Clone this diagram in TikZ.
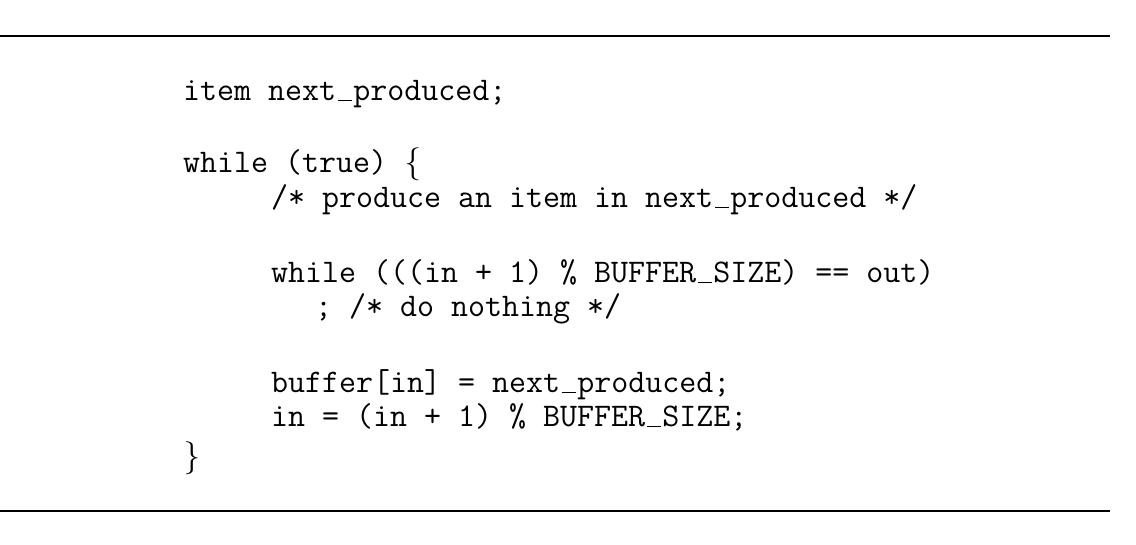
\documentclass[tikz,border=0pt]{standalone}
\newcommand{\usc}{\makebox[0.525em]{\rule[-0.04em]{0.42em}{0.045em}}}
\newcommand{\lbr}{\makebox[0.525em]{\rmfamily\{}}
\newcommand{\rbr}{\makebox[0.525em]{\rmfamily\}}}
\begin{document}
\begin{tikzpicture}[x=1pt,y=-1pt,
  code/.style={anchor=base west,inner sep=0pt,font=\fontsize{33}{40}\selectfont\ttfamily}]
\useasboundingbox (0,0) rectangle (1136,544);
\draw[line width=2.5pt] (0,36) coordinate (tl) -- (1110,36) coordinate (tr);
\draw[line width=2.5pt] (0,511) coordinate (bl) -- (1110,511) coordinate (br);
\node[code] (l1) at (183,100) {item next\usc produced;};
\node[code] (l2) at (183,172) {while (true) \lbr};
\node[code] (l3) at (271,207) {/* produce an item in next\usc produced */};
\node[code] (l4) at (271,282) {while (((in + 1) \% BUFFER\usc SIZE) == out)};
\node[code] (l5) at (315,316) {; /* do nothing */};
\node[code] (l6) at (271,392) {buffer[in] = next\usc produced;};
\node[code] (l7) at (271,426) {in = (in + 1) \% BUFFER\usc SIZE;};
\node[code] (l8) at (183,466) {\rbr};
\end{tikzpicture}
\end{document}
